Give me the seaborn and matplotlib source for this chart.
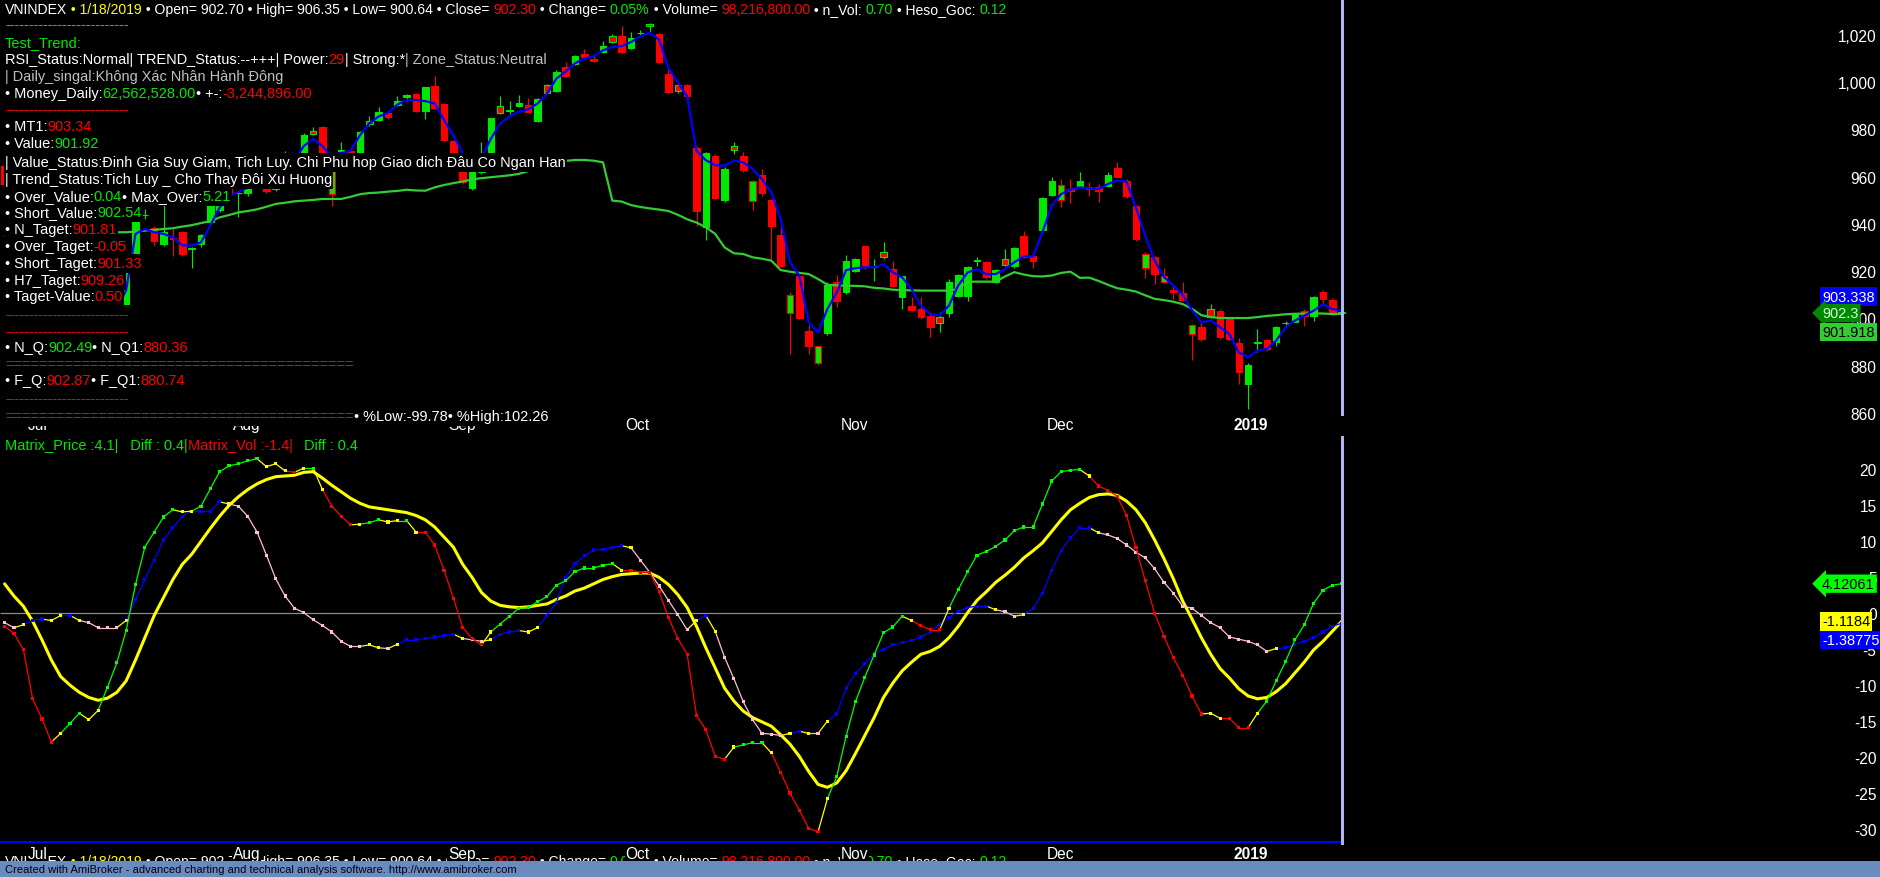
import numpy as np
import matplotlib
matplotlib.use("Agg")
import matplotlib.pyplot as plt
import seaborn as sns
from matplotlib.collections import LineCollection
from matplotlib.patches import Rectangle
from matplotlib import transforms
from matplotlib.font_manager import FontProperties

# ---------------- data ----------------
opens = [964.6, 957.0, 950.0, 945.0, 931.0, 918.0, 896.0, 906.0, 899.0, 908.0,
         903.0, 897.0, 903.0, 905.7, 927.3, 943.7, 938.2, 931.5, 934.2, 936.5,
         929.6, 931.5, 941.0, 946.0, 955.5, 953.0, 953.0, 958.0, 957.0, 955.0,
         969.0, 963.0, 968.0, 979.5, 980.9, 952.7, 971.0, 971.0, 970.3, 983.7,
         984.2, 986.8, 990.4, 993.6, 995.0, 987.7, 998.3, 990.8, 975.0, 963.0,
         955.2, 962.0, 970.3, 989.8, 987.9, 989.8, 990.5, 983.5, 998.8, 996.2,
         1006.3, 1007.7, 1012.0, 1009.8, 1012.7, 1019.4, 1019.4, 1014.6, 1020.7, 1024.7,
         1020.4, 1003.5, 998.8, 998.8, 972.2, 938.9, 968.8, 950.0, 972.9, 968.8,
         949.6, 960.7, 950.2, 935.3, 902.2, 918.1, 894.9, 881.0, 893.7, 915.3,
         911.1, 920.2, 930.5, 921.7, 928.3, 920.9, 909.0, 905.1, 904.0, 901.1,
         900.8, 902.2, 909.4, 909.5, 924.4, 923.8, 915.3, 925.2, 922.1, 934.8,
         926.3, 937.5, 952.4, 950.0, 954.7, 956.2, 955.5, 955.5, 956.2, 963.6,
         958.3, 947.8, 921.2, 926.0, 915.3, 912.1, 910.7, 893.4, 896.3, 904.0,
         903.3, 899.8, 889.5, 872.3, 889.7, 891.0, 889.9, 898.0, 898.7, 903.3,
         901.2, 911.1, 908.0, 902.70]
highs = [966.0, 958.0, 953.0, 946.0, 933.0, 920.0, 908.0, 910.0, 910.0, 911.0,
         905.0, 904.0, 909.0, 920.0, 942.0, 946.3, 939.3, 948.9, 937.9, 937.0,
         930.2, 935.8, 949.0, 955.0, 956.0, 953.4, 959.0, 963.0, 958.0, 964.0,
         971.0, 969.0, 978.5, 980.9, 981.5, 963.0, 974.8, 971.5, 979.5, 985.9,
         989.4, 987.5, 994.0, 995.0, 995.5, 998.2, 1002.5, 991.2, 975.5, 964.0,
         963.5, 974.6, 985.0, 994.3, 992.2, 994.7, 993.2, 993.3, 999.2, 1005.0,
         1008.7, 1011.7, 1014.1, 1012.0, 1017.3, 1020.6, 1023.7, 1021.1, 1022.1, 1025.0,
         1021.0, 1005.6, 999.5, 999.3, 973.0, 970.5, 969.5, 964.0, 974.9, 970.3,
         958.5, 963.3, 950.5, 938.6, 911.4, 918.5, 897.3, 888.5, 915.3, 918.4,
         926.9, 925.5, 931.0, 925.2, 932.5, 924.5, 918.2, 909.2, 909.0, 902.6,
         902.6, 916.7, 919.0, 922.3, 925.9, 924.5, 921.0, 929.4, 930.3, 936.9,
         928.0, 951.5, 960.0, 959.0, 959.0, 961.9, 957.6, 956.9, 961.9, 966.1,
         959.0, 948.0, 928.0, 926.6, 921.2, 914.2, 915.6, 897.7, 898.4, 906.1,
         904.0, 900.5, 891.6, 881.0, 895.6, 891.5, 897.0, 899.1, 902.3, 904.0,
         909.5, 912.1, 908.5, 906.35]
lows = [955.0, 948.0, 942.0, 930.0, 918.0, 890.0, 893.0, 897.0, 896.0, 900.0,
        894.0, 893.0, 901.0, 905.0, 926.0, 942.1, 930.5, 930.8, 926.6, 926.5,
        921.2, 930.1, 940.5, 945.0, 952.0, 942.8, 952.0, 956.0, 953.0, 954.0,
        965.0, 961.0, 967.0, 977.5, 969.0, 947.8, 970.3, 969.5, 969.0, 981.6,
        983.5, 984.5, 990.0, 992.0, 987.5, 984.4, 988.5, 975.0, 965.0, 957.0,
        954.5, 961.0, 969.0, 986.5, 986.6, 989.5, 987.0, 983.0, 995.0, 995.8,
        1002.4, 1007.3, 1010.0, 1008.7, 1012.3, 1016.5, 1012.3, 1014.2, 1020.0, 1021.3,
        1008.0, 995.5, 995.5, 991.5, 939.3, 933.4, 950.5, 949.5, 969.5, 961.9,
        946.1, 952.0, 925.2, 922.0, 885.0, 900.0, 885.0, 880.5, 893.0, 904.7,
        910.5, 919.5, 921.0, 916.0, 925.2, 913.5, 904.0, 903.3, 899.8, 892.3,
        894.1, 900.5, 909.0, 907.6, 922.4, 916.7, 915.0, 922.4, 921.5, 925.8,
        921.2, 937.0, 952.0, 947.1, 948.9, 956.0, 951.7, 949.5, 956.0, 959.7,
        951.1, 933.0, 917.0, 914.6, 914.9, 908.3, 907.6, 882.4, 890.6, 900.4,
        891.5, 891.0, 872.3, 861.7, 885.7, 886.4, 888.5, 896.3, 898.5, 897.0,
        899.1, 905.7, 901.5, 900.64]
closes = [957.0, 950.0, 946.0, 932.0, 920.0, 894.0, 905.0, 900.0, 908.0, 903.0,
          897.0, 902.0, 906.0, 919.7, 941.4, 943.9, 932.9, 936.5, 933.7, 927.2,
          929.7, 935.3, 948.5, 954.0, 952.7, 953.1, 958.0, 962.0, 954.0, 963.0,
          967.0, 968.0, 977.8, 978.1, 970.0, 962.6, 971.2, 970.3, 979.1, 982.3,
          987.3, 985.2, 991.9, 994.6, 988.0, 997.8, 989.1, 975.7, 966.0, 957.6,
          963.0, 968.0, 984.7, 986.8, 988.0, 991.1, 987.3, 992.9, 995.4, 1004.5,
          1002.8, 1011.3, 1010.5, 1009.1, 1015.2, 1016.9, 1012.7, 1018.6, 1020.9, 1024.0,
          1008.4, 996.0, 996.5, 994.0, 945.6, 969.9, 951.0, 963.3, 971.5, 963.0,
          958.1, 953.3, 939.0, 922.4, 910.0, 900.4, 888.5, 888.2, 914.3, 907.6,
          924.5, 925.2, 921.7, 922.0, 925.9, 913.9, 917.8, 903.7, 900.5, 896.5,
          898.0, 915.6, 918.5, 921.9, 924.5, 917.7, 920.7, 922.8, 929.8, 926.2,
          924.2, 951.1, 958.3, 956.6, 954.1, 958.3, 954.7, 954.1, 960.9, 960.0,
          951.7, 933.6, 927.3, 918.8, 917.8, 911.1, 908.0, 897.3, 891.3, 900.5,
          892.0, 891.3, 877.5, 880.5, 889.9, 887.1, 896.5, 898.1, 902.0, 901.2,
          909.2, 908.3, 901.85, 902.30]
ma_short = [962.0, 957.0, 952.0, 943.0, 932.0, 915.0, 910.0, 906.0, 906.0, 905.0,
            901.0, 901.0, 904.0, 912.0, 935.8, 937.9, 936.5, 935.8, 934.4, 931.0,
            930.8, 932.2, 939.3, 947.0, 951.8, 953.5, 955.5, 958.0, 957.0, 959.0,
            964.0, 967.0, 973.0, 976.0, 973.0, 968.0, 970.0, 971.0, 977.5, 982.5,
            985.5, 987.0, 990.5, 992.5, 992.5, 992.0, 991.0, 984.0, 977.5, 970.0,
            966.0, 968.0, 976.0, 982.5, 985.5, 987.5, 988.5, 991.0, 995.0, 1001.5,
            1004.5, 1008.0, 1010.0, 1011.0, 1013.5, 1015.0, 1015.3, 1017.0, 1019.5, 1021.0,
            1018.0, 1006.0, 1000.0, 994.0, 971.0, 967.0, 964.9, 964.7, 966.8, 966.1,
            963.3, 959.0, 953.4, 942.1, 923.8, 918.1, 898.4, 894.1, 904.0, 911.0,
            920.5, 921.3, 921.7, 921.7, 923.0, 919.5, 917.4, 912.5, 905.4, 901.9,
            901.2, 905.5, 914.0, 919.5, 920.9, 918.8, 918.8, 920.9, 923.8, 926.3,
            926.3, 936.5, 947.8, 952.7, 954.5, 955.5, 955.1, 954.8, 956.9, 958.5,
            957.9, 947.0, 935.0, 924.5, 917.5, 914.0, 910.0, 903.5, 898.4, 899.1,
            896.3, 893.4, 885.7, 883.6, 886.4, 887.1, 890.6, 896.3, 899.1, 901.2,
            903.3, 906.1, 904.0, 903.338]
ma_long = [935.0, 935.2, 935.4, 935.6, 935.8, 936.0, 936.1, 936.2, 936.3, 936.4,
           936.5, 936.5, 936.5, 936.5, 936.8, 937.2, 937.5, 937.9, 938.2, 938.9,
           939.5, 940.4, 941.2, 942.8, 943.8, 944.9, 945.5, 946.2, 947.3, 948.5,
           949.0, 949.6, 949.9, 950.2, 950.6, 950.6, 950.6, 951.5, 952.6, 953.1,
           953.3, 953.7, 954.0, 954.5, 954.2, 954.1, 955.5, 956.5, 957.3, 958.0,
           958.9, 959.4, 959.8, 960.2, 960.6, 961.2, 962.4, 963.5, 964.8, 965.8,
           966.7, 967.1, 967.1, 966.8, 966.1, 949.9, 949.5, 948.0, 947.2, 946.6,
           946.1, 945.5, 943.9, 942.0, 940.6, 938.6, 935.8, 930.1, 927.6, 927.3,
           925.9, 925.3, 924.5, 920.5, 919.8, 919.3, 918.8, 916.7, 914.3, 914.0,
           913.9, 913.8, 913.6, 913.0, 912.7, 912.2, 912.0, 911.9, 911.8, 911.8,
           911.8, 911.8, 912.5, 915.6, 915.6, 915.6, 915.6, 917.8, 919.6, 918.6,
           917.9, 917.8, 918.2, 919.3, 919.8, 917.2, 917.3, 915.9, 914.3, 912.8,
           912.2, 911.4, 909.8, 908.3, 907.8, 907.1, 906.1, 904.1, 901.4, 900.6,
           900.2, 900.2, 900.2, 900.2, 900.6, 901.1, 901.4, 901.8, 902.0, 902.1,
           902.2, 902.1, 901.9, 901.918]

matrix_price = [-1.8, -2.8, -5.0, -11.9, -14.7, -17.9, -16.7, -15.3, -13.9, -14.8,
                -13.5, -10.3, -6.9, -2.4, 4.0, 9.2, 11.3, 13.4, 14.4, 14.1,
                14.2, 14.9, 17.3, 19.7, 20.5, 20.8, 21.2, 21.5, 20.4, 20.8,
                19.8, 19.6, 20.2, 20.2, 17.2, 14.9, 13.5, 12.3, 12.4, 12.6,
                13.0, 12.7, 12.9, 12.9, 11.3, 11.3, 9.5, 6.0, 2.1, -2.0,
                -3.5, -4.4, -2.6, -1.5, -0.4, 0.7, 0.8, 1.6, 2.3, 3.9,
                4.5, 5.8, 6.3, 6.3, 6.7, 6.9, 6.0, 6.0, 5.7, 5.7,
                3.0, -0.6, -3.5, -5.7, -14.2, -16.2, -19.9, -20.3, -18.6, -18.3,
                -18.0, -18.0, -19.4, -22.1, -25.0, -27.4, -29.9, -30.4, -25.8, -22.7,
                -17.1, -12.3, -8.9, -5.8, -2.7, -1.9, -0.4, -1.0, -1.7, -2.3,
                -2.3, 0.7, 3.3, 5.8, 8.1, 8.6, 9.3, 10.2, 11.5, 12.0,
                12.0, 15.2, 18.4, 19.7, 19.9, 20.0, 19.1, 17.7, 17.1, 16.3,
                13.6, 9.1, 4.5, 0.0, -3.2, -6.2, -8.6, -11.5, -14.0, -13.9,
                -14.6, -14.6, -15.9, -15.9, -13.9, -12.2, -9.4, -6.7, -3.7, -1.6,
                1.4, 3.2, 3.9, 4.12061]
matrix_vol = [-1.3, -2.0, -1.6, -1.0, -0.8, -1.0, -0.3, -0.3, -1.0, -1.3,
              -2.0, -2.0, -2.0, -1.0, 1.9, 4.7, 7.4, 10.2, 11.9, 13.5,
              14.2, 14.2, 14.2, 15.5, 15.2, 14.9, 13.5, 11.3, 8.1, 4.8,
              2.4, 0.7, 0.1, -0.9, -1.7, -2.6, -3.9, -4.6, -4.6, -4.4,
              -4.8, -4.9, -4.3, -3.7, -3.7, -3.5, -3.3, -3.1, -2.9, -3.5,
              -3.7, -3.9, -3.7, -2.9, -2.6, -2.4, -2.6, -2.0, -0.3, 1.5,
              5.0, 6.9, 8.0, 8.8, 8.9, 9.2, 9.4, 9.1, 7.4, 5.7,
              3.8, 1.8, -0.2, -2.3, -1.0, -0.3, -2.5, -6.1, -9.1, -12.3,
              -14.8, -16.7, -16.8, -17.0, -16.7, -16.4, -16.7, -16.7, -15.0, -14.0,
              -10.4, -8.4, -7.0, -5.7, -5.0, -4.4, -4.1, -3.8, -3.3, -2.6,
              -1.5, -0.6, 0.3, 0.8, 1.0, 1.0, 0.5, 0.2, -0.4, -0.2,
              0.7, 2.8, 6.0, 8.7, 10.5, 11.9, 11.9, 11.2, 10.9, 10.4,
              9.5, 8.5, 7.7, 6.2, 4.3, 2.8, 1.0, 0.7, -0.3, -1.3,
              -2.0, -3.3, -3.6, -3.9, -4.4, -5.3, -4.9, -4.8, -4.3, -3.9,
              -3.4, -2.6, -1.8, -1.38775]
signal = [4.1, 2.4, 1.0, -1.1, -3.7, -6.5, -8.8, -10.0, -11.0, -11.7,
          -12.1, -11.8, -11.0, -9.4, -6.5, -3.4, -0.3, 2.2, 4.7, 6.8,
          8.2, 10.0, 11.8, 13.5, 15.0, 16.2, 17.2, 18.0, 18.6, 19.0,
          19.1, 19.2, 19.6, 19.7, 18.8, 17.8, 16.9, 16.0, 15.3, 14.8,
          14.6, 14.4, 14.2, 14.0, 13.6, 13.0, 12.0, 10.6, 9.2, 6.8,
          5.0, 2.9, 1.7, 1.1, 0.9, 0.8, 0.9, 1.1, 1.3, 1.9,
          2.4, 3.1, 3.5, 4.1, 4.7, 5.1, 5.4, 5.5, 5.6, 5.6,
          5.0, 4.0, 2.6, 0.8, -1.8, -4.8, -7.6, -10.4, -12.2, -13.6,
          -14.5, -15.1, -15.7, -16.9, -18.2, -19.9, -22.0, -23.8, -24.2, -23.6,
          -21.9, -19.5, -17.0, -14.5, -11.7, -9.7, -8.0, -6.8, -5.7, -5.3,
          -4.6, -3.4, -1.8, 0.1, 1.8, 3.0, 4.3, 5.3, 6.4, 7.7,
          8.7, 9.8, 11.4, 13.0, 14.4, 15.3, 16.1, 16.5, 16.6, 16.4,
          15.6, 14.4, 12.6, 10.2, 7.6, 4.8, 1.7, -0.8, -3.4, -5.7,
          -7.7, -9.0, -10.5, -11.5, -11.9, -11.7, -10.9, -9.8, -8.3, -6.8,
          -5.1, -3.9, -2.5, -1.1184]

month_pos = [2, 24, 47, 66, 89, 111, 131]
month_lbl = ["Jul", "Aug", "Sep", "Oct", "Nov", "Dec", "2019"]
price_ticks = [860, 880, 900, 920, 940, 960, 980, 1000, 1020]
osc_ticks = [-30, -25, -20, -15, -10, -5, 0, 5, 10, 15, 20]

# ---------------- style ----------------
W, H = 1880, 878
GRN, RED, WHT, YEL, GRY = "#00e800", "#ff0000", "#ffffff", "#ffff00", "#c0c0c0"
FS = 10.45      # body text
FS_TITLE = 10.1
FS_TICK = 11.2

sns.set_theme(style="dark", rc={"axes.facecolor": "black", "figure.facecolor": "black"})
plt.rcParams["font.family"] = ["Liberation Sans", "DejaVu Sans"]

fig = plt.figure(figsize=(W / 100, H / 100), dpi=100, facecolor="black")


def px_axes(top, bottom):
    return fig.add_axes([0, 1 - bottom / H, 1, (bottom - top) / H])


ax1 = px_axes(0, 417)
ax2 = px_axes(437, 846)

X0, DX = 4.6, 9.35
xlim = (-X0 / DX, (W - X0) / DX)
idx = np.arange(len(closes))
last = idx[-1]

for ax in (ax1, ax2):
    ax.set_facecolor("black")
    ax.grid(False)
    for s in ax.spines.values():
        s.set_visible(False)
    ax.set_xlim(*xlim)

ax1.set_ylim(1020 - (417 - 36) / 2.3625, 1020 + 36 / 2.3625)
ax2.set_ylim((614.3 - 846) / 7.19, (614.3 - 437) / 7.19)

# ---------------- candles ----------------
o, h, l, c = map(np.array, (opens, highs, lows, closes))
fill = np.where(c >= o, GRN, RED)
prev_c = np.r_[c[0], c[:-1]]
edge = np.where(c > prev_c, GRN, RED)
edge[0] = fill[0]
ax1.vlines(idx, l, h, colors=edge, linewidth=0.8, zorder=2)
ax1.bar(idx, np.maximum(np.abs(c - o), 0.3), bottom=np.minimum(o, c), width=0.7,
        color=fill, edgecolor=edge, linewidth=0.8, zorder=3)

sns.lineplot(x=idx, y=ma_long, ax=ax1, color="#33cc33", linewidth=1.6, zorder=4, legend=False)
sns.lineplot(x=idx, y=ma_short, ax=ax1, color="#0000ff", linewidth=1.6, zorder=5, legend=False)


# ---------------- oscillator panel ----------------
def seg_colors(vals, up_c, dn_c):
    d = np.sign(np.diff(vals))
    for k in range(1, len(d)):
        if d[k] == 0:
            d[k] = d[k - 1]
    cols = []
    for k in range(len(d)):
        if k > 0 and d[k] != d[k - 1]:
            cols.append(YEL)
        else:
            cols.append(up_c if d[k] > 0 else dn_c)
    return cols


def colored_line(ax, vals, up_c, dn_c, z):
    vals = np.asarray(vals)
    pts = np.column_stack([idx, vals])
    segs = np.stack([pts[:-1], pts[1:]], axis=1)
    cols = seg_colors(vals, up_c, dn_c)
    ax.add_collection(LineCollection(segs, colors=cols, linewidths=0.9, zorder=z))
    ax.scatter(idx, vals, c=[cols[0]] + cols, marker="s", s=5, linewidths=0, zorder=z)


ax2.hlines(0, xlim[0], last, color="#8c8c8c", linewidth=0.9, zorder=1)
ax2.hlines(-31.85, xlim[0], last, color="#0000ff", linewidth=1.5, zorder=1)
sns.lineplot(x=idx, y=signal, ax=ax2, color=YEL, linewidth=2.2, zorder=3, legend=False)
colored_line(ax2, matrix_vol, "#0000ff", "#ffc0cb", 4)
colored_line(ax2, matrix_price, "#00ff00", RED, 5)

for ax in (ax1, ax2):
    ax.axvline(last, color="#b4b4f4", linewidth=2.2, zorder=6)

# ---------------- axes labels ----------------
ax1.set_yticks(price_ticks)
ax1.set_yticklabels([f"{v:,}" for v in price_ticks])
ax2.set_yticks(osc_ticks)
ax2.set_yticklabels([str(v) for v in osc_ticks])
for ax in (ax1, ax2):
    ax.yaxis.tick_right()
    ax.tick_params(axis="y", colors=WHT, labelsize=FS_TICK, length=0, pad=-2.5)
    for t in ax.get_yticklabels():
        t.set_ha("right")
    ax.set_xticks(month_pos)
    ax.set_xticklabels(month_lbl)
    ax.tick_params(axis="x", colors=WHT, labelsize=FS_TICK, length=0, pad=0.5)
    shift = transforms.ScaledTranslation(4 / 100, 0, fig.dpi_scale_trans)
    for t in ax.get_xticklabels():
        t.set_ha("left")
        t.set_transform(t.get_transform() + shift)
    ax.get_xticklabels()[-1].set_fontweight("bold")
for t in ax2.get_xticklabels():
    t.set_bbox(dict(facecolor="black", edgecolor="none", pad=0.5))


def tag(ax, yval, text, fc, tc, dy=0, arrow=False):
    tr = transforms.blended_transform_factory(ax.transAxes, ax.transData)
    tr = tr + transforms.ScaledTranslation(0, -dy / 100, fig.dpi_scale_trans)
    style = "larrow,pad=0.15" if arrow else "square,pad=0.15"
    ax.text(1822 / W, yval, text, transform=tr, ha="left", va="center", color=tc,
            fontsize=FS, zorder=10, clip_on=False,
            bbox=dict(boxstyle=style, facecolor=fc, edgecolor="none"))


tag(ax1, ma_short[-1], "903.338", "#0000ff", WHT, dy=-14)
tag(ax1, closes[-1], "902.3", "#008a00", "#d8ffd8", arrow=True)
tag(ax1, ma_long[-1], "901.918", "#33cc33", "black", dy=18)
tag(ax2, matrix_price[-1], "4.12061", "#00ff00", "black", arrow=True)
tag(ax2, signal[-1], "-1.1184", YEL, "black")
tag(ax2, matrix_vol[-1], "-1.38775", "#0000ff", WHT, dy=17)

# ---------------- text overlay ----------------
renderer = fig.canvas.get_renderer()


def advance(s, size):
    fp = FontProperties(family=["Liberation Sans", "DejaVu Sans"], size=size)
    w1 = renderer.get_text_width_height_descent(s + "|", fp, ismath=False)[0]
    w0 = renderer.get_text_width_height_descent("|", fp, ismath=False)[0]
    return w1 - w0


def rich(y, parts, x=5, z=3, size=FS):
    # AmiBroker paints its text on an opaque black box: put a black patch under each piece
    for s, col in parts:
        t = fig.text(x / W, 1 - y / H, s, color=col, fontsize=size, ha="left", va="center",
                     zorder=z)
        bb = t.get_window_extent(renderer)
        adv = advance(s, size)
        fig.add_artist(Rectangle((x - 1, bb.y0 - 2.5), adv + 2, bb.height + 5,
                                 transform=transforms.IdentityTransform(),
                                 facecolor="black", edgecolor="none", zorder=z - 0.5))
        x += adv


title = [("VNINDEX", WHT), (" • 1/18/2019", YEL),
         (" • Open= 902.70 • High= 906.35 • Low= 900.64 • Close= ", WHT), ("902.30", RED),
         (" • Change= ", WHT), ("0.05%", GRN), (" • Volume= ", WHT), ("98,216,800.00", RED),
         (" • n_Vol: ", WHT), ("0.70", GRN), (" • Heso_Goc: ", WHT), ("0.12", GRN)]
dash = "-" * 26
eq = "=" * 41
lines = [
    (25, [(dash, GRN)]),
    (43, [("Test_Trend:", GRN)]),
    (60, [("RSI_Status:Normal| TREND_Status:--+++| Power:", WHT), ("29", RED),
          ("| Strong:*", WHT), ("| Zone_Status:Neutral", GRY)]),
    (77, [("| Daily_singal:Không Xác Nhân Hành Đông", GRY)]),
    (94, [("• Money_Daily:", WHT), ("62,562,528.00", GRN), ("• +-:", WHT), ("-3,244,896.00", RED)]),
    (110, [(dash, RED)]),
    (127, [("• MT1:", WHT), ("903.34", RED)]),
    (144, [("• Value:", WHT), ("901.92", GRN)]),
    (163, [("| Value_Status:Đinh Gia Suy Giam, Tich Luy. Chi Phu hop Giao dich Đâu Co Ngan Han", WHT)]),
    (180, [("| Trend_Status:Tich Luy _ Cho Thay Đôi Xu Huong", WHT)]),
    (197, [("• Over_Value:", WHT), ("0.04", GRN), ("• Max_Over:", WHT), ("5.21", GRN)]),
    (213, [("• Short_Value:", WHT), ("902.54", GRN)]),
    (230, [("• N_Taget:", WHT), ("901.81", RED)]),
    (247, [("• Over_Taget:", WHT), ("-0.05", RED)]),
    (264, [("• Short_Taget:", WHT), ("901.33", RED)]),
    (281, [("• H7_Taget:", WHT), ("909.26", RED)]),
    (297, [("• Taget-Value:", WHT), ("0.50", RED)]),
    (315, [(dash, RED)]),
    (332, [(dash, RED)]),
    (348, [("• N_Q:", WHT), ("902.49", GRN), ("• N_Q1:", WHT), ("880.36", RED)]),
    (365, [(eq, RED)]),
    (381, [("• F_Q:", WHT), ("902.87", RED), ("• F_Q1:", WHT), ("880.74", RED)]),
    (399, [(dash, RED)]),
    (417, [(eq, RED), ("• %Low:-99.78• %High:102.26", WHT)]),
    (446, [("Matrix_Price :4.1|   Diff : 0.4|", GRN), ("Matrix_Vol :-1.4|", RED), ("   Diff : 0.4", GRN)]),
]
rich(10, title, size=FS_TITLE)
for y, parts in lines:
    rich(y, parts)

# ghost title repeated under the lower date axis, cut by the footer
rich(862, title, z=-1, size=FS_TITLE)

fig.add_artist(Rectangle((0, 0), 1, 16 / H, transform=fig.transFigure,
                         facecolor="#6a8bbd", edgecolor="none", zorder=20))
fig.text(5 / W, 1 - 870 / H,
         "Created with AmiBroker - advanced charting and technical analysis software. http://www.amibroker.com",
         color="#000010", fontsize=8.0, ha="left", va="center", zorder=21)

fig.savefig("out.png", dpi=100, facecolor="black")
